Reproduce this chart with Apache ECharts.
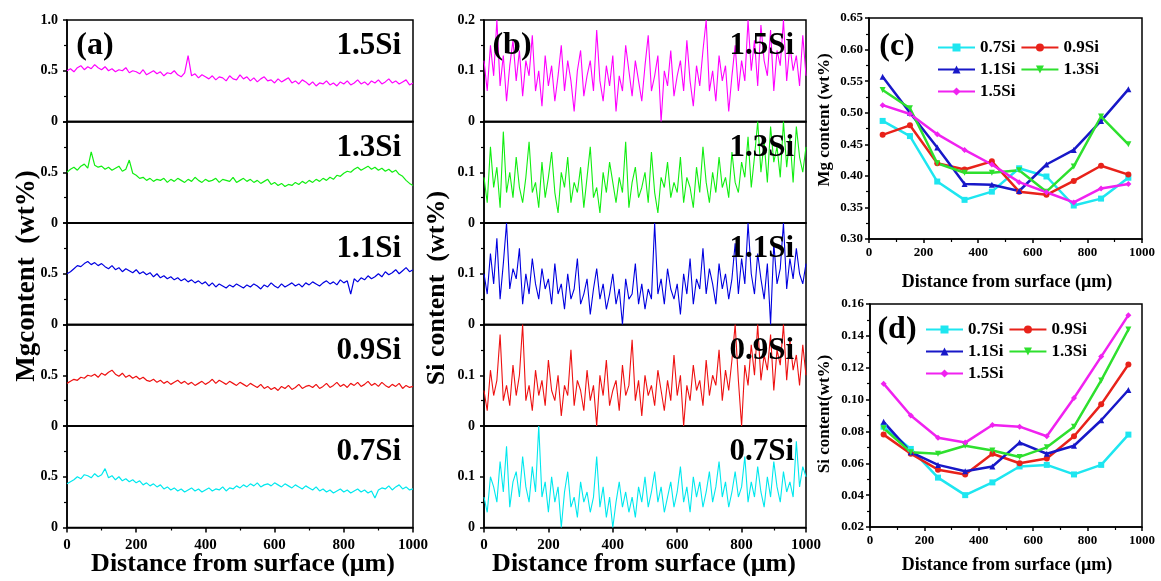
<!DOCTYPE html>
<html>
<head>
<meta charset="utf-8">
<script src="https://cdn.jsdelivr.net/npm/echarts@6/dist/echarts.min.js"></script>
<style>
html, body { margin: 0; padding: 0; background: #fff; }
#chart { width: 1161px; height: 581px; }
</style>
</head>
<body>
<div id="chart"></div>
<script>
// line-scan profiles, one value every 10 um from 0 to 1000 um
// Mg (a), in hundredths of wt%
const mg15 = [50,52,49,53,55,51,54,52,56,53, 51,54,50,52,49,51,50,53,48,50, 49,47,51,46,48,50,47,49,45,48, 47,50,46,44,48,65,45,47,43,46, 44,42,45,41,44,43,40,45,42,41, 46,42,44,40,43,39,42,44,40,41, 38,42,39,41,43,38,40,37,41,39, 36,39,35,38,37,40,36,38,35,39, 37,40,36,38,41,37,39,36,40,38, 41,37,39,42,38,40,37,39,41,36, 38];
const mg13 = [50,53,55,52,56,58,54,70,57,55, 56,53,55,52,54,56,51,53,62,49, 47,44,45,42,44,41,43,42,44,40, 43,41,44,42,40,43,41,45,42,40, 43,41,42,44,40,43,42,41,45,40, 42,44,41,43,40,42,39,41,43,38, 40,37,39,36,38,37,40,38,41,39, 42,40,43,41,44,42,45,43,47,46, 49,51,50,53,55,52,54,56,53,55, 52,54,51,53,50,52,48,46,42,39, 37];
const mg11 = [50,52,55,58,57,60,62,59,61,58, 60,57,55,58,54,56,52,55,53,51, 54,50,52,49,51,47,50,46,48,45, 47,44,46,43,45,42,44,41,43,40, 42,38,41,37,40,38,36,39,37,40, 38,36,39,37,40,38,35,39,37,41, 38,36,40,37,39,41,38,40,37,41, 39,42,40,38,41,43,40,42,39,44, 41,43,30,45,42,46,44,48,45,47, 50,47,52,49,51,54,50,53,56,52, 54];
const mg09 = [42,44,46,45,48,47,50,49,51,48, 52,50,53,55,51,49,52,48,50,47, 49,46,48,45,44,46,43,45,42,44, 41,43,45,42,44,41,43,40,42,44, 41,43,46,42,45,43,41,44,42,40, 43,41,39,42,40,38,41,37,39,36, 38,35,39,37,40,36,38,41,37,39, 40,38,41,37,39,42,38,40,43,39, 41,38,42,40,43,39,41,44,40,42, 39,43,40,38,41,39,42,37,40,38, 39];
const mg07 = [43,45,47,50,48,52,51,49,53,50, 52,58,49,51,47,50,46,48,45,47, 44,46,42,44,41,43,40,42,38,40, 37,39,36,38,35,37,39,36,38,35, 37,39,36,38,37,40,36,39,38,41, 39,42,40,43,41,44,40,42,43,41, 44,42,40,43,41,39,42,40,38,41, 39,37,40,36,38,35,37,34,36,38, 35,37,34,36,38,35,37,34,36,29, 37,39,38,41,37,40,42,38,40,37, 38];

// Si (b), in thousandths of wt%
const si15 = [120,60,150,90,200,70,130,40,110,160, 80,140,50,120,90,170,60,100,30,130, 70,110,40,90,150,60,120,80,20,100, 140,50,90,120,60,180,80,40,110,70, 130,20,90,60,150,100,50,120,80,40, 110,170,60,90,130,0,100,70,140,50, 90,120,60,160,80,30,110,70,140,200, 60,100,40,130,80,110,20,90,150,60, 120,80,200,100,160,70,190,120,90,180, 60,140,110,200,80,150,100,130,70,170, 90];
const si13 = [90,40,150,70,110,30,180,60,100,50, 130,70,40,90,160,60,80,30,120,50, 90,140,60,20,100,70,130,40,80,60, 110,30,90,150,50,70,20,100,60,120, 80,40,90,60,160,30,80,110,50,70, 100,40,140,60,20,90,70,120,50,80, 60,130,40,90,70,30,110,60,150,80, 40,100,60,130,70,90,50,140,80,60, 120,90,170,70,130,200,100,160,80,190, 120,150,90,200,110,170,80,190,130,100, 150];
const si11 = [100,60,140,80,170,50,120,200,70,110, 90,150,40,100,60,130,80,50,110,70, 90,40,120,60,80,30,100,50,70,130, 40,60,90,20,70,110,50,80,30,60, 100,40,70,0,90,50,60,120,40,80, 30,70,50,200,60,90,40,110,70,50, 80,20,100,60,130,40,90,70,150,60, 110,80,40,120,70,100,50,90,160,60, 130,80,200,100,60,140,90,50,120,0, 160,80,110,200,70,130,90,150,100,80, 120];
const si09 = [70,30,110,60,90,180,50,80,40,120, 60,100,200,50,80,30,110,60,90,40, 130,70,50,100,20,80,60,150,40,90, 70,30,110,50,80,0,100,60,130,40, 70,90,30,120,60,80,170,50,90,20, 100,60,80,40,110,70,30,90,50,140, 60,100,0,80,50,120,70,90,40,130, 60,100,80,150,50,110,70,130,200,90, 0,120,80,160,100,200,90,140,110,180, 70,150,120,200,90,170,110,140,80,160, 100];
const si07 = [60,30,100,80,50,130,70,160,40,90, 110,60,140,80,50,120,70,200,60,90, 30,100,50,80,0,70,110,40,60,20, 90,50,70,30,60,140,40,80,20,60, 0,50,90,40,70,30,60,20,80,50, 100,40,70,110,50,80,30,60,90,40, 70,120,50,80,30,100,60,90,40,70, 110,50,80,130,60,90,40,70,110,60, 80,140,50,90,60,120,70,40,100,60, 130,80,50,110,70,90,60,170,80,120, 100];

// averaged values (c) and (d)
const sampleNames = ['0.7Si', '0.9Si', '1.1Si', '1.3Si', '1.5Si'];
const avgX = [50, 150, 250, 350, 450, 550, 650, 750, 850, 950];
const mgAvg07 = [0.487, 0.463, 0.391, 0.362, 0.375, 0.412, 0.399, 0.353, 0.364, 0.397];
const mgAvg09 = [0.465, 0.480, 0.420, 0.410, 0.423, 0.375, 0.370, 0.392, 0.416, 0.402];
const mgAvg11 = [0.557, 0.500, 0.445, 0.387, 0.386, 0.376, 0.418, 0.441, 0.487, 0.537];
const mgAvg13 = [0.536, 0.507, 0.420, 0.405, 0.405, 0.409, 0.375, 0.415, 0.494, 0.450];
const mgAvg15 = [0.512, 0.498, 0.466, 0.441, 0.418, 0.390, 0.374, 0.358, 0.380, 0.387];
const siAvg07 = [0.083, 0.069, 0.051, 0.040, 0.048, 0.058, 0.059, 0.053, 0.059, 0.078];
const siAvg09 = [0.078, 0.066, 0.056, 0.053, 0.066, 0.060, 0.063, 0.077, 0.097, 0.122];
const siAvg11 = [0.086, 0.067, 0.059, 0.055, 0.058, 0.073, 0.066, 0.071, 0.087, 0.106];
const siAvg13 = [0.082, 0.067, 0.066, 0.071, 0.068, 0.064, 0.070, 0.083, 0.112, 0.144];
const siAvg15 = [0.110, 0.090, 0.076, 0.073, 0.084, 0.083, 0.077, 0.101, 0.127, 0.153];

const SERIF = '"Liberation Serif", "DejaVu Serif", serif';
const profileColors = ['#FF00FF', '#11EE11', '#0000E0', '#EE1111', '#00E8EE'];
const avgColors = ['#1EE6F0', '#E8221A', '#1818C8', '#2EE02E', '#F022F0'];
const avgSymbols = ['rect', 'circle', 'triangle', 'path://M0,0L10,0L5,9Z', 'diamond'];
const stackLabels = ['1.5Si', '1.3Si', '1.1Si', '0.9Si', '0.7Si'];

const chart = echarts.init(document.getElementById('chart'));

const grids = [], xAxes = [], yAxes = [], series = [], graphic = [];
const tickFont = { fontSize: 14, fontWeight: 'bold', fontFamily: SERIF, color: '#000' };
const blackLine = { color: '#000', width: 1.5 };
const plainNum = v => String(v);

function addStack(left, width, profiles, scale, yMax, topLabel, lineW) {
    profiles.forEach((vals, i) => {
        const top = 20 + i * 101.5;
        const k = grids.length;
        const last = i === profiles.length - 1;
        grids.push({ left: left, top: top, width: width, height: 101.5, show: true, borderColor: '#000', borderWidth: 1.5, backgroundColor: 'transparent' });
        xAxes.push({
            gridIndex: k, type: 'value', min: 0, max: 1000, interval: 200,
            axisLine: { show: true, onZero: false, lineStyle: blackLine },
            axisTick: { show: last, length: 5, lineStyle: blackLine },
            minorTick: { show: last, splitNumber: 2, length: 3, lineStyle: { color: '#000', width: 1.2 } },
            splitLine: { show: false },
            axisLabel: Object.assign({ show: last, margin: 10, formatter: plainNum }, tickFont, { fontSize: 15 })
        });
        yAxes.push({
            gridIndex: k, type: 'value', min: 0, max: yMax, interval: yMax / 2,
            axisLine: { show: true, lineStyle: blackLine },
            axisTick: { show: true, length: 4, lineStyle: blackLine },
            minorTick: { show: true, splitNumber: 2, length: 3, lineStyle: { color: '#000', width: 1.2 } },
            splitLine: { show: false },
            axisLabel: Object.assign({
                margin: 9,
                formatter: v => v === 0 ? '0' : (v < yMax - 1e-9 ? String(yMax / 2) : (i === 0 ? topLabel : ''))
            }, tickFont)
        });
        series.push({
            type: 'line', name: 'profile' + k, xAxisIndex: k, yAxisIndex: k,
            data: vals.map((v, j) => [j * 10, v / scale]),
            symbol: 'none', silent: true, clip: true,
            lineStyle: { width: lineW, color: profileColors[i] },
            itemStyle: { color: profileColors[i] }
        });
        graphic.push({
            type: 'text', x: left + width - 12, y: top + 26, z: 100,
            style: { text: stackLabels[i], align: 'right', verticalAlign: 'middle', fontSize: 31, fontWeight: 'bold', fontFamily: SERIF, fill: '#000' }
        });
    });
}

addStack(67, 346, [mg15, mg13, mg11, mg09, mg07], 100, 1, '1.0', 1.2);
addStack(484, 322, [si15, si13, si11, si09, si07], 1000, 0.2, '0.2', 1.1);

function addAverage(box, yMin, yMax, yStep, sets) {
    const k = grids.length;
    grids.push({ left: box[0], top: box[1], width: box[2], height: box[3], show: true, borderColor: '#000', borderWidth: 1.5, backgroundColor: 'transparent' });
    xAxes.push({
        gridIndex: k, type: 'value', min: 0, max: 1000, interval: 200,
        axisLine: { show: true, onZero: false, lineStyle: blackLine },
        axisTick: { length: 4, lineStyle: blackLine },
        minorTick: { show: true, splitNumber: 2, length: 3, lineStyle: { color: '#000', width: 1.2 } },
        splitLine: { show: false },
        axisLabel: Object.assign({ margin: 7, formatter: plainNum }, tickFont, { fontSize: 13 })
    });
    yAxes.push({
        gridIndex: k, type: 'value', min: yMin, max: yMax, interval: yStep,
        axisLine: { show: true, lineStyle: blackLine },
        axisTick: { length: 4, lineStyle: blackLine },
        minorTick: { show: true, splitNumber: 2, length: 3, lineStyle: { color: '#000', width: 1.2 } },
        splitLine: { show: false },
        axisLabel: Object.assign({ margin: 6, formatter: v => v.toFixed(2) }, tickFont, { fontSize: 13 })
    });
    sets.forEach((vals, i) => {
        series.push({
            type: 'line', name: sampleNames[i], xAxisIndex: k, yAxisIndex: k,
            data: avgX.map((x, j) => [x, vals[j]]),
            symbol: avgSymbols[i], symbolSize: 6, showSymbol: true,
            lineStyle: { width: 2.5, color: avgColors[i] },
            itemStyle: { color: avgColors[i] }
        });
    });
}

addAverage([869, 18, 273, 221], 0.30, 0.65, 0.05, [mgAvg07, mgAvg09, mgAvg11, mgAvg13, mgAvg15]);
addAverage([870, 304, 272, 223], 0.02, 0.16, 0.02, [siAvg07, siAvg09, siAvg11, siAvg13, siAvg15]);

function legendAt(left, top) {
    return {
        data: sampleNames, left: left, top: top, width: 190, padding: 0,
        itemWidth: 37, itemHeight: 10, itemGap: 5,
        textStyle: { fontSize: 17, fontWeight: 'bold', fontFamily: SERIF, color: '#000', width: 45 },
        selectedMode: false
    };
}

function addText(text, x, y, size, rotate) {
    graphic.push({
        type: 'text', x: x, y: y, rotation: rotate ? Math.PI / 2 : 0, z: 100,
        style: { text: text, align: 'center', verticalAlign: 'middle', fontSize: size, fontWeight: 'bold', fontFamily: SERIF, fill: '#000' }
    });
}

addText('(a)', 95, 46, 32);
addText('(b)', 512, 46, 32);
addText('(c)', 897, 47, 32);
addText('(d)', 897, 330, 32);
addText('Distance from surface (μm)', 243, 564, 26);
addText('Distance from surface (μm)', 644, 564, 26);
addText('Distance from surface (μm)', 1007, 282, 18);
addText('Distance from surface (μm)', 1007, 565, 18);
addText('Mgcontent  (wt%)', 27, 276, 27, true);
addText('Si content  (wt%)', 437, 288, 26, true);
addText('Mg content (wt%)', 825, 120, 17, true);
addText('Si content(wt%)', 825, 414, 17, true);

chart.setOption({
    backgroundColor: '#fff',
    animation: false,
    grid: grids,
    xAxis: xAxes,
    yAxis: yAxes,
    legend: [legendAt(937, 39), legendAt(925, 321)],
    series: series,
    graphic: graphic
});
</script>
</body>
</html>
